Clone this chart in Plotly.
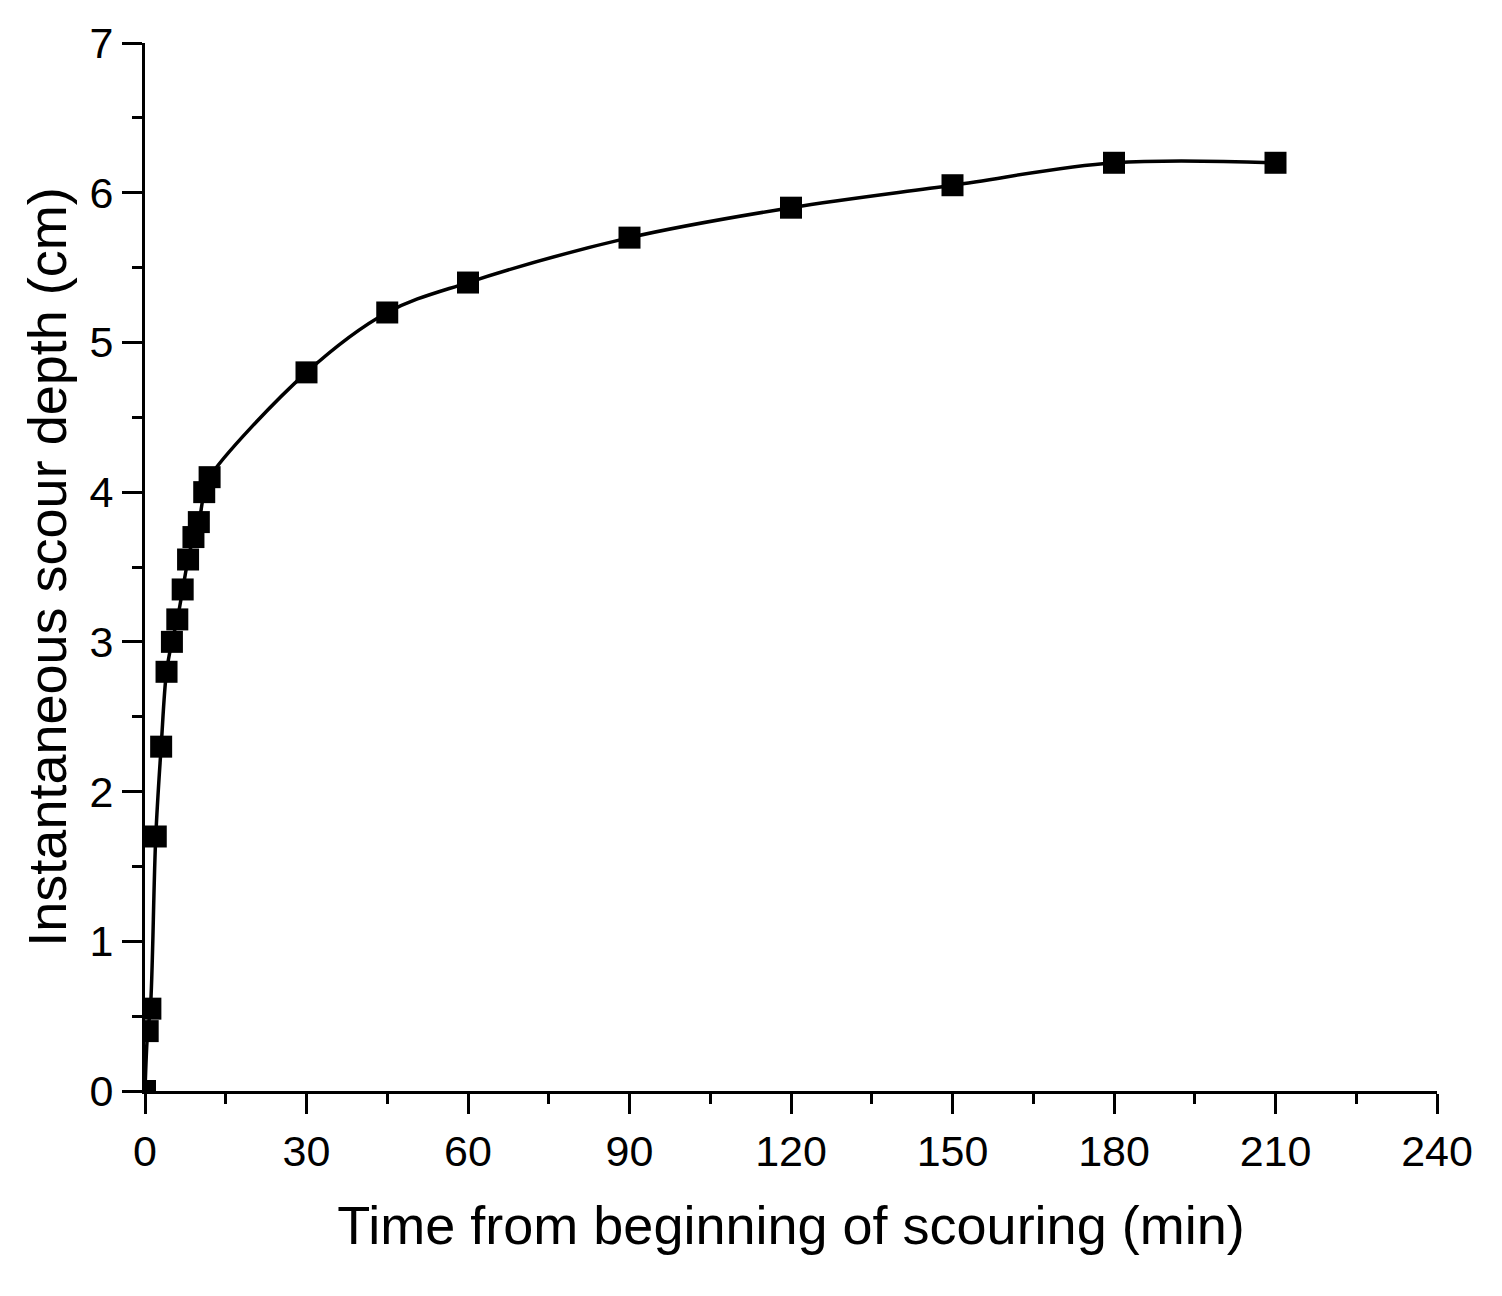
import plotly.graph_objects as go

# scour test readings
time_min = [0, 0.5, 1, 2, 3, 4, 5, 6, 7, 8, 9, 10, 11, 12, 30, 45, 60, 90, 120, 150, 180, 210]
depth_cm = [0, 0.4, 0.55, 1.7, 2.3, 2.8, 3.0, 3.15, 3.35, 3.55, 3.7, 3.8, 4.0, 4.1,
            4.8, 5.2, 5.4, 5.7, 5.9, 6.05, 6.2, 6.2]

x_ticks = [0, 30, 60, 90, 120, 150, 180, 210, 240]
y_ticks = [0, 1, 2, 3, 4, 5, 6, 7]

FONT = "Liberation Sans, Arial, sans-serif"

fig = go.Figure()
fig.add_trace(go.Scatter(
    x=time_min, y=depth_cm,
    mode="lines+markers",
    line=dict(color="black", width=3.5, shape="spline", smoothing=1.0),
    marker=dict(symbol="square", size=22, color="black"),
    cliponaxis=True,
    showlegend=False,
))

axis_common = dict(
    showgrid=False, zeroline=False,
    showline=True, linecolor="black", linewidth=3,
    ticks="outside", ticklen=20, tickwidth=3, tickcolor="black",
    tickfont=dict(family=FONT, size=43, color="black"),
)

fig.update_xaxes(
    range=[0, 240], tickvals=x_ticks,
    minor=dict(dtick=15, tick0=0, ticks="outside", ticklen=10, tickwidth=3, tickcolor="black"),
    title=dict(text="Time from beginning of scouring (min)",
               font=dict(family=FONT, size=54, color="black"), standoff=33),
    **axis_common,
)
fig.update_yaxes(
    range=[0, 7], tickvals=y_ticks,
    minor=dict(dtick=0.5, tick0=0, ticks="outside", ticklen=10, tickwidth=3, tickcolor="black"),
    title=dict(text="Instantaneous scour depth (cm)",
               font=dict(family=FONT, size=54, color="black"), standoff=6),
    **axis_common,
)

# page has an 8px body margin, so pull the plot area up/left by that
fig.update_layout(
    width=1502, height=1296,
    margin=dict(l=137, r=73, t=35, b=213),
    plot_bgcolor="white", paper_bgcolor="white",
)

fig.write_html("out.html")
